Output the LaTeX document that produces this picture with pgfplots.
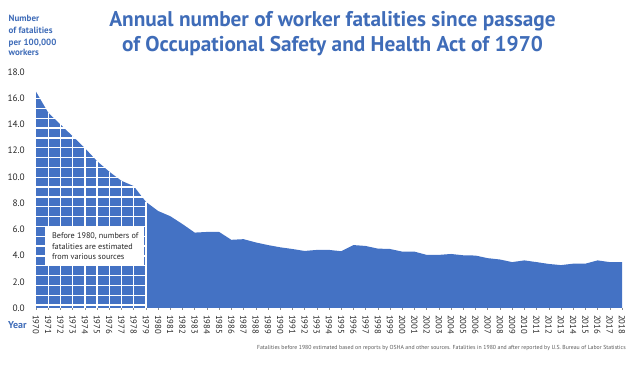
\documentclass[border=0pt]{standalone}
\usepackage{pgfplots}
\pgfplotsset{compat=1.18}
\usepackage{pgfplotstable}
\usepgfplotslibrary{fillbetween}
\usepackage{fontspec}
\setmainfont{PT Sans}
\definecolor{oshablue}{HTML}{4472C4}
\definecolor{titleblue}{HTML}{3F6CB8}

\pgfplotstableread{
year val
1970 16.5
1971 14.9
1972 14.0
1973 13.1
1974 12.2
1975 11.2
1976 10.4
1977 9.7
1978 9.3
1979 8.1
1980 7.4
1981 7.0
1982 6.4
1983 5.75
1984 5.8
1985 5.8
1986 5.2
1987 5.25
1988 5.0
1989 4.8
1990 4.63
1991 4.5
1992 4.35
1993 4.43
1994 4.43
1995 4.33
1996 4.8
1997 4.73
1998 4.53
1999 4.5
2000 4.3
2001 4.3
2002 4.05
2003 4.05
2004 4.12
2005 4.02
2006 4.0
2007 3.8
2008 3.7
2009 3.5
2010 3.63
2011 3.5
2012 3.36
2013 3.27
2014 3.38
2015 3.38
2016 3.63
2017 3.5
2018 3.5
}\alldata

\pgfplotstableread{
year val
1970 16.5
1971 14.9
1972 14.0
1973 13.1
1974 12.2
1975 11.2
1976 10.4
1977 9.7
1978 9.3
1979 8.1
}\predata

\begin{document}
\begin{tikzpicture}[x=1pt,y=1pt]
\path (0,0) rectangle (635,366);
\begin{axis}[
  at={(36pt,58pt)}, anchor=south west,
  scale only axis, width=586pt, height=236pt,
  xmin=1970, xmax=2018, ymin=0, ymax=18,
  xtick={1970,...,2018}, ytick={0,2,...,18},
  xtick pos=bottom, ytick pos=left,
  axis line style={draw=none},
  tick align=outside,
  major tick length=2pt,
  xtick style={draw=black!45, thin},
  ytick style={draw=none},
  /pgf/number format/assume math mode=true,
  x tick label style={/pgf/number format/1000 sep={}, rotate=-90, anchor=west,
     font=\fontsize{8.7}{9}\selectfont, text=black!85, inner sep=0pt},
  xticklabel shift=5pt,
  y tick label style={/pgf/number format/fixed, /pgf/number format/fixed zerofill,
     /pgf/number format/precision=1, anchor=east, inner sep=0pt, xshift=-9pt,
     font=\fontsize{9.3}{10}\selectfont, text=black!85},
  clip=false,
]
\addplot[fill=oshablue, draw=none] table[x=year,y=val] {\alldata} \closedcycle;
% grid of the estimated period
\pgfplotsinvokeforeach{0,...,21}{
  \draw[white, line width=1.3pt] (axis cs:1970,{0.22+0.75*#1}) -- (axis cs:1979,{0.22+0.75*#1});
}
\addplot[ycomb, white, line width=1.4pt, mark=none, restrict x to domain=1970.5:1979.5] table[x=year,y=val] {\predata};
\addplot[name path=pre, draw=none, forget plot] table[x=year,y=val] {\predata};
\addplot[name path=topline, draw=none, forget plot] coordinates {(1970,18.5) (1979,18.5)};
\addplot[white, forget plot] fill between[of=pre and topline];
% note box
\fill[white] (axis cs:1970.75,3.3) rectangle (axis cs:1978.85,6.2);
\node[anchor=north west, align=left, inner sep=0pt, font=\fontsize{8.2}{10.5}\selectfont, text=black!85]
  at (axis cs:1971.3,5.75) {Before 1980, numbers of\\fatalities are estimated\\from various sources};
\end{axis}

% title
\node[anchor=base, text=titleblue, font=\fontsize{21.3}{24}\bfseries\selectfont] at (332.5,339) {Annual number of worker fatalities since passage};
\node[anchor=base, text=titleblue, font=\fontsize{21.3}{24}\bfseries\selectfont] at (332.5,314) {of Occupational Safety and Health Act of 1970};

% y label
\node[anchor=base west, inner sep=0pt, text=titleblue, font=\fontsize{9}{10}\bfseries\selectfont] at (8.5,344) {Number};
\node[anchor=base west, inner sep=0pt, text=titleblue, font=\fontsize{9}{10}\bfseries\selectfont] at (8.5,332) {of fatalities};
\node[anchor=base west, inner sep=0pt, text=titleblue, font=\fontsize{9}{10}\bfseries\selectfont] at (8.5,320.5) {per 100,000};
\node[anchor=base west, inner sep=0pt, text=titleblue, font=\fontsize{9}{10}\bfseries\selectfont] at (8.5,310) {workers};

% Year label
\node[anchor=base west, inner sep=0pt, text=titleblue, font=\fontsize{10}{10}\bfseries\selectfont] at (8,37) {Year};

% footnote
\node[anchor=base east, inner sep=0pt, text=black!65, font=\fontsize{5.8}{6}\selectfont] at (626,16) {Fatalities before 1980 estimated based on reports by OSHA and other sources. Fatalities in 1980 and after reported by U.S. Bureau of Labor Statistics};
\end{tikzpicture}
\end{document}
